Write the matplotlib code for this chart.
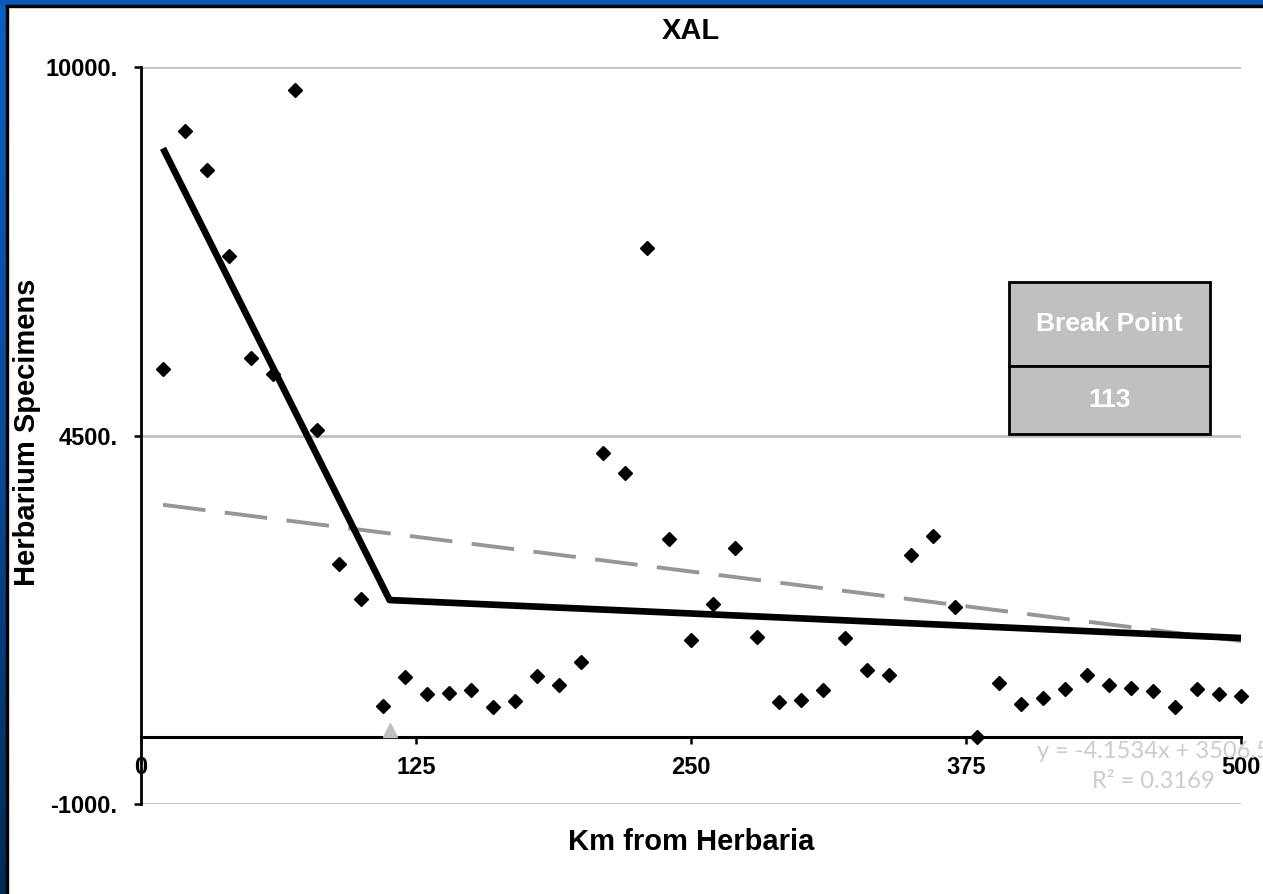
import matplotlib
matplotlib.use("Agg")
import matplotlib.pyplot as plt
from matplotlib.patches import Rectangle
import numpy as np

# data
km = [10, 20, 30, 40, 50, 60, 70, 80, 90, 100,
      110, 120, 130, 140, 150, 160, 170, 180, 190, 200,
      210, 220, 230, 240, 250, 260, 270, 280, 290, 300,
      310, 320, 330, 340, 350, 360, 370, 380, 390, 400,
      410, 420, 430, 440, 450, 460, 470, 480, 490, 500]
specimens = [5497, 9055, 8472, 7186, 5661, 5417, 9668, 4585, 2580, 2052,
             459, 887, 638, 658, 703, 449, 538, 912, 777, 1121,
             4246, 3947, 7300, 2960, 1450, 1988, 2826, 1495, 523, 553,
             703, 1480, 1002, 927, 2721, 3005, 1937, 0, 798, 488,
             578, 717, 917, 777, 723, 683, 444, 717, 633, 612]

break_km = 113
seg_x = [10, break_km, 500]
seg_y = [8790, 2042, 1475]

trend_slope = -4.1534
trend_icept = 3506.5
trend_r2 = 0.3169

yticks = [10000, 4500, -1000]
ytick_labels = ["10000.", "4500.", "-1000."]
xticks = [0, 125, 250, 375, 500]

W, H = 1263, 894
fig = plt.figure(figsize=(W / 100, H / 100), dpi=100)
fig.patch.set_facecolor("white")

# slide frame: blue bands with a dark edge on top and left
grad = fig.add_axes([0, 0, 6 / W, 1])
g = np.linspace(0, 1, 256).reshape(-1, 1)
cmap = matplotlib.colors.LinearSegmentedColormap.from_list("frame", ["#0c5fc4", "#0a4a98", "#002a55"])
grad.imshow(g, aspect="auto", cmap=cmap, extent=[0, 1, 0, 1], origin="upper")
grad.axis("off")
fig.patches.append(Rectangle((0, 1 - 4.7 / H), 1, 4.7 / H, transform=fig.transFigure, color="#0a57b5", zorder=5))
fig.patches.append(Rectangle((6 / W, 1 - 6.7 / H), 1, 2 / H, transform=fig.transFigure, color="black", zorder=6))
fig.patches.append(Rectangle((6 / W, 0), 2.2 / W, 1 - 4.7 / H, transform=fig.transFigure, color="black", zorder=6))

ax = fig.add_axes([141 / W, 1 - 803.7 / H, 1100 / W, 736.4 / H])
ax.set_xlim(0, 500)
ax.set_ylim(-1000, 10000)

for s in ["top", "right"]:
    ax.spines[s].set_visible(False)
ax.spines["left"].set_linewidth(2)
ax.spines["bottom"].set_position(("data", 0))
ax.spines["bottom"].set_linewidth(2.2)
ax.spines["bottom"].set_zorder(3)

ax.set_yticks(yticks)
ax.set_yticklabels(ytick_labels)
ax.set_xticks(xticks)
ax.set_xticklabels([str(t) for t in xticks])
tick_font = dict(family="Liberation Sans", weight="bold", size=17)
for lab in ax.get_xticklabels() + ax.get_yticklabels():
    lab.set_fontproperties(matplotlib.font_manager.FontProperties(**tick_font))
ax.tick_params(axis="both", direction="out", length=5, width=1.8, colors="black")
ax.tick_params(axis="y", pad=12)
ax.tick_params(axis="x", pad=9)

ax.yaxis.grid(True, color="#c0c0c0", lw=2)
ax.set_axisbelow(True)

# linear trendline (Excel style)
tx = np.array([km[0], km[-1]])
ax.plot(tx, trend_slope * tx + trend_icept, color="#969696", lw=2.8,
        dashes=(11, 5), zorder=2, clip_on=False)

# segmented regression
ax.plot(seg_x, seg_y, color="black", lw=4.8, zorder=3, solid_capstyle="butt", clip_on=False)

ax.plot(km, specimens, ls="none", marker="D", ms=7.5, color="black", zorder=4, clip_on=False)

# break point marker on the axis
ax.plot([break_km], [100], ls="none", marker="^", ms=10, color="#c0c0c0", zorder=4, clip_on=False)

# break point box
bx0, bx1 = (1009 - 141) / 1100, (1210 - 141) / 1100
by_top, by_mid, by_bot = (803.7 - 282) / 736.4, (803.7 - 366) / 736.4, (803.7 - 434) / 736.4
for y0, y1 in [(by_mid, by_top), (by_bot, by_mid)]:
    ax.add_patch(Rectangle((bx0, y0), bx1 - bx0, y1 - y0, transform=ax.transAxes,
                           facecolor="#c0c0c0", edgecolor="black", lw=2, zorder=5, clip_on=False))
ax.text((bx0 + bx1) / 2, (by_mid + by_top) / 2, "Break Point", transform=ax.transAxes,
        ha="center", va="center", color="white", family="Liberation Sans", weight="bold", size=19, zorder=6)
ax.text((bx0 + bx1) / 2, (by_bot + by_mid) / 2, str(break_km), transform=ax.transAxes,
        ha="center", va="center", color="white", family="Liberation Sans", weight="bold", size=19, zorder=6)

# trendline equation
fig.text(1153 / W, 1 - 751 / H, "y = %.4fx + %.1f" % (trend_slope, trend_icept),
         ha="center", va="center", color="#cccccc", family="Lato", size=17)
fig.text(1153 / W, 1 - 782 / H, "R² = %.4f" % trend_r2,
         ha="center", va="center", color="#cccccc", family="Lato", size=17)

lab_font = dict(family="Liberation Sans", weight="bold", size=21)
fig.text(691 / W, 1 - 39 / H, "XAL", ha="center", va="baseline", **lab_font)
fig.text(691 / W, 1 - 850 / H, "Km from Herbaria", ha="center", va="baseline", **lab_font)
fig.text(27 / W, 1 - 432.5 / H, "Herbarium Specimens", ha="center", va="center", rotation=90, **lab_font)

fig.savefig("out.png", dpi=100, facecolor="white")
